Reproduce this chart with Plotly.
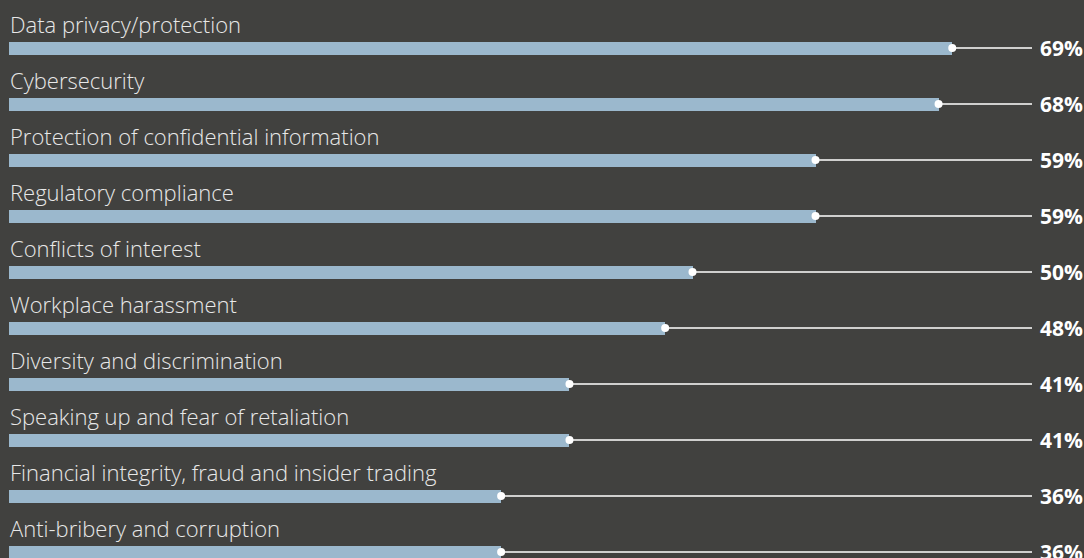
import plotly.graph_objects as go

categories = [
    "Data privacy/protection",
    "Cybersecurity",
    "Protection of confidential information",
    "Regulatory compliance",
    "Conflicts of interest",
    "Workplace harassment",
    "Diversity and discrimination",
    "Speaking up and fear of retaliation",
    "Financial integrity, fraud and insider trading",
    "Anti-bribery and corruption",
]
values = [69, 68, 59, 59, 50, 48, 41, 41, 36, 36]
value_labels = [f"{v}%" for v in values]

BG = "#41413f"
BAR = "#9bb8cd"
W, H = 1084, 558
PX_PER_UNIT = 13.67
X0_PX = 9
ROW_PX = 56
FIRST_ROW_PX = 48

x_left = -X0_PX / PX_PER_UNIT
x_right = (W - X0_PX) / PX_PER_UNIT
y_top = -FIRST_ROW_PX / ROW_PX
y_bottom = (H - FIRST_ROW_PX) / ROW_PX
line_end = (1032 - X0_PX) / PX_PER_UNIT

idx = list(range(len(categories)))

fig = go.Figure()
fig.add_trace(go.Bar(
    x=values, y=idx, orientation="h", width=13 / ROW_PX,
    marker=dict(color=BAR, line=dict(width=0)), hoverinfo="skip",
))

lx, ly = [], []
for i, v in zip(idx, values):
    lx += [v, line_end, None]
    ly += [i, i, None]
fig.add_trace(go.Scatter(x=lx, y=ly, mode="lines",
                         line=dict(color="white", width=1.3), hoverinfo="skip"))
fig.add_trace(go.Scatter(x=values, y=idx, mode="markers",
                         marker=dict(color="white", size=8), hoverinfo="skip"))

annotations = []
for i, c, t in zip(idx, categories, value_labels):
    annotations.append(dict(
        x=0, y=i, xref="x", yref="y", text=c, showarrow=False,
        xanchor="left", yanchor="middle", yshift=24, xshift=-1,
        font=dict(family="Open Sans", size=22, color="#e8e8e8", weight=300),
    ))
    annotations.append(dict(
        x=1, y=i, xref="paper", yref="y", text=t, showarrow=False,
        xanchor="right", yanchor="middle", xshift=1, yshift=0,
        font=dict(family="Open Sans", size=21, color="white", weight=700),
    ))

fig.update_layout(
    width=W, height=H,
    margin=dict(l=0, r=0, t=0, b=0),
    paper_bgcolor=BG, plot_bgcolor=BG,
    showlegend=False, bargap=0,
    xaxis=dict(range=[x_left, x_right], visible=False, fixedrange=True),
    yaxis=dict(range=[y_bottom, y_top], visible=False, fixedrange=True),
    annotations=annotations,
)

fig.write_html(
    "out.html",
    config={"displayModeBar": False},
    post_script="document.body.style.margin='0';document.body.style.background='%s';" % BG,
)
